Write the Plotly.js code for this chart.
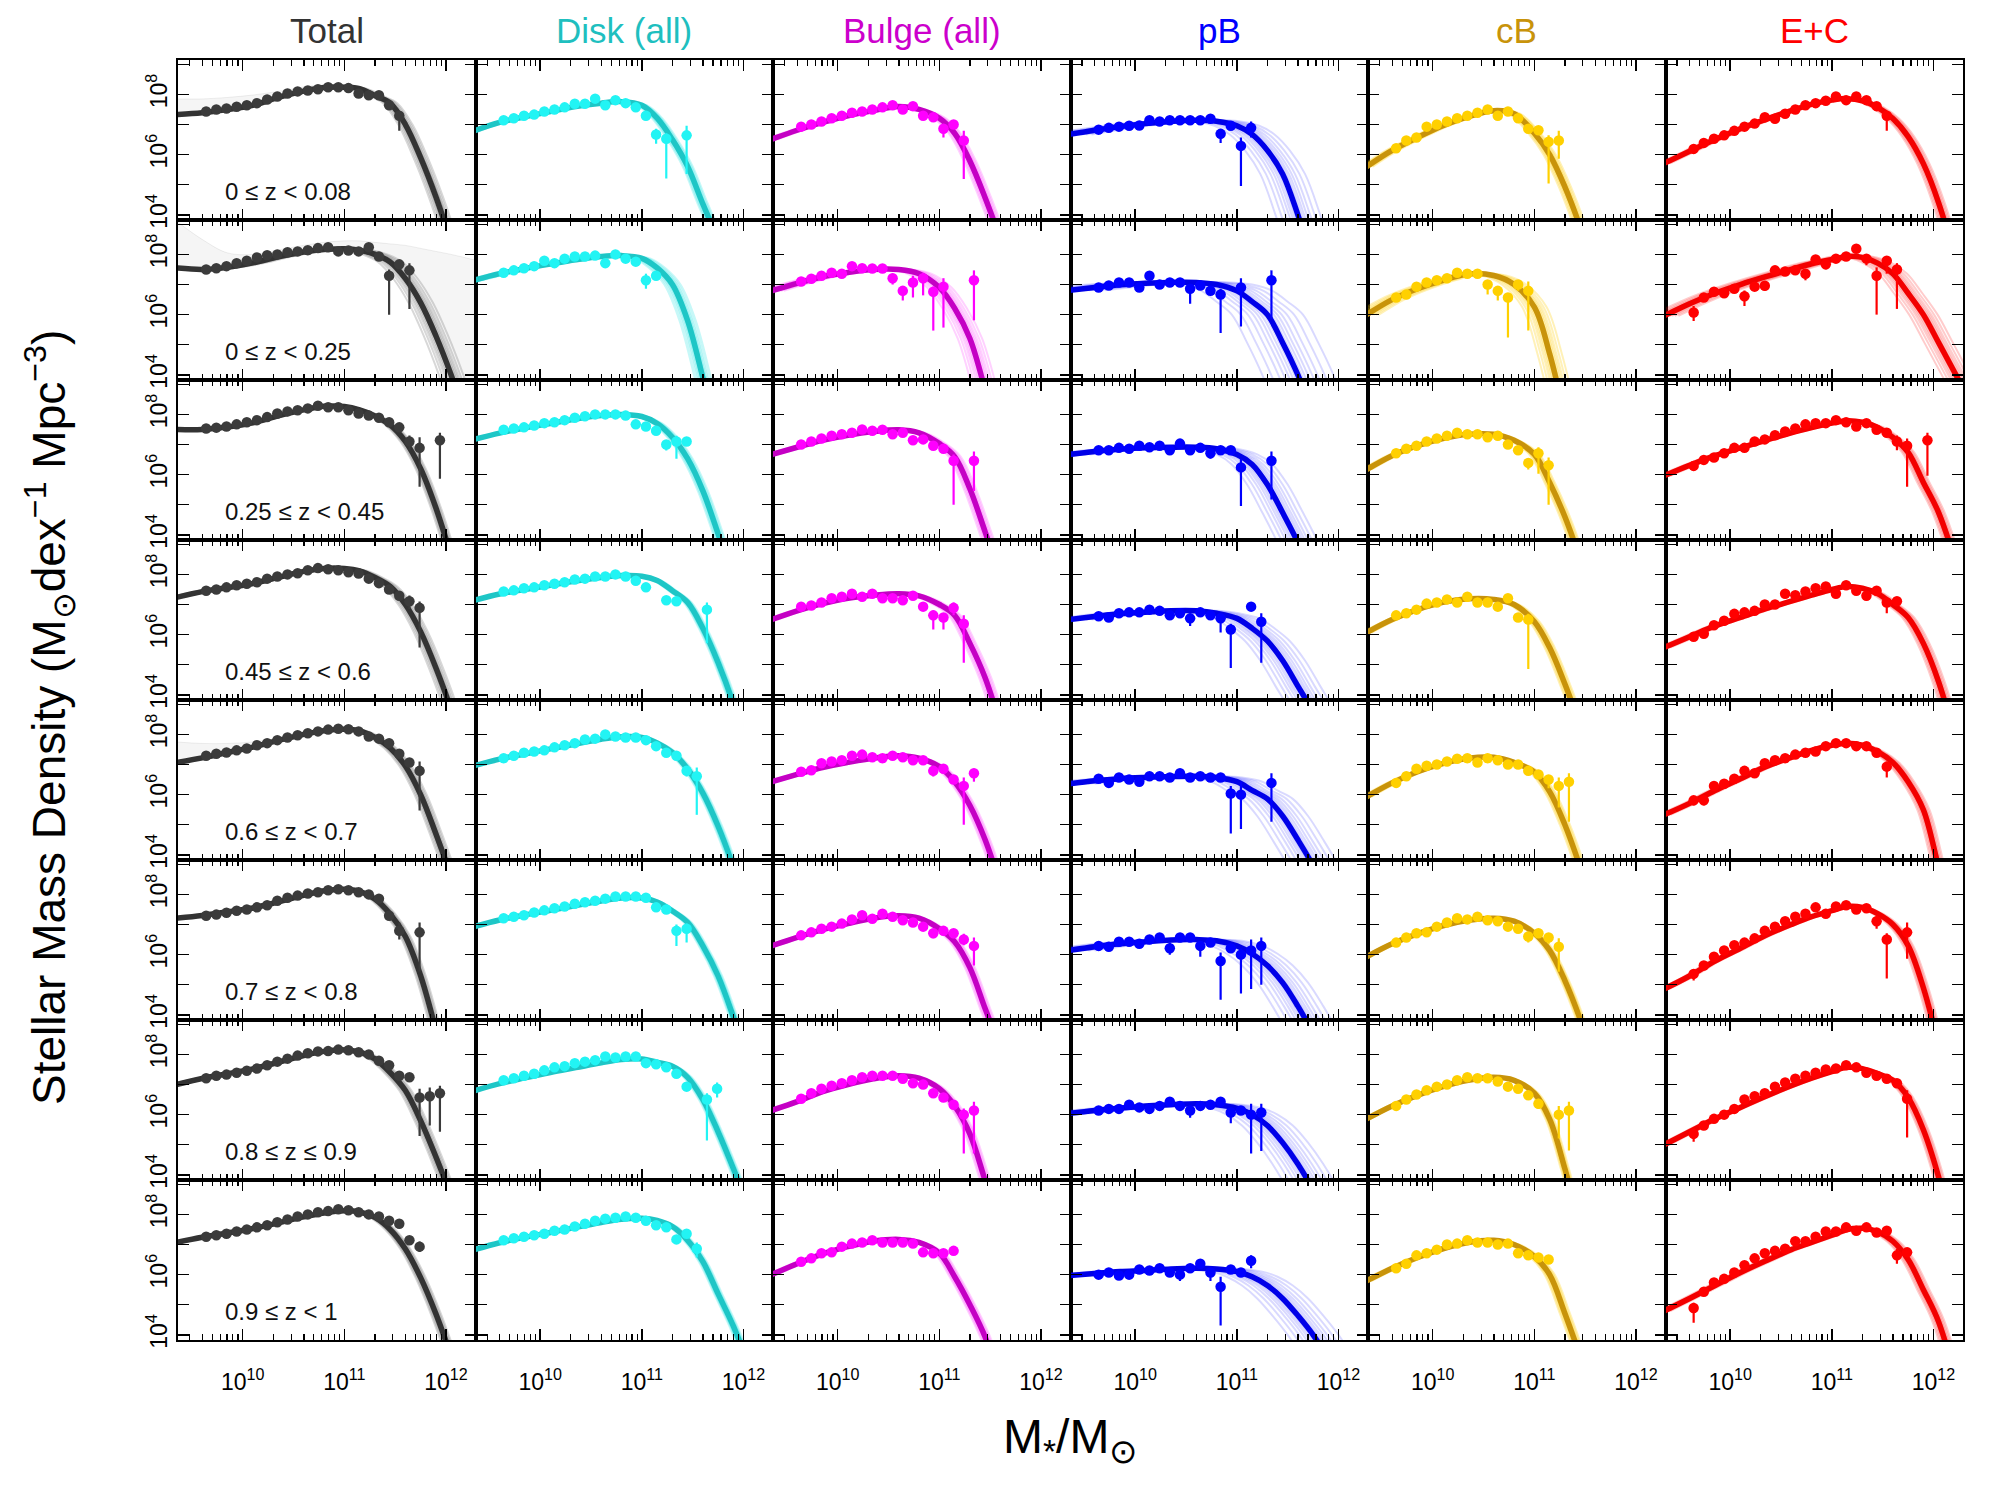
<!DOCTYPE html>
<html><head><meta charset="utf-8">
<script src="https://cdn.plot.ly/plotly-3.0.1.min.js"></script>
<style>body{margin:0;background:#fff}#chart{width:2000px;height:1500px}</style>
</head><body><div id="chart"></div>
<script>
// ---------- categories / labels ----------
const COLUMN_TITLES = ['Total','Disk (all)','Bulge (all)','pB','cB','E+C'];
const REDSHIFT_BINS = ['0 ≤ z < 0.08','0 ≤ z < 0.25','0.25 ≤ z < 0.45','0.45 ≤ z < 0.6',
                       '0.6 ≤ z < 0.7','0.7 ≤ z < 0.8','0.8 ≤ z ≤ 0.9','0.9 ≤ z < 1'];
// log10 stellar-mass bin centres of the data points
const MASS_BINS = [9.64,9.74,9.84,9.94,10.04,10.14,10.24,10.34,10.44,10.54,10.64,10.74,
                   10.84,10.94,11.04,11.14,11.24,11.34,11.44,11.54,11.64,11.74,11.84,11.94];
// log10 mass at which the fitted curves were read
const FIT_GRID = [9.35,9.6,9.85,10.1,10.35,10.6,10.8,11.0,11.15,11.3,11.45,11.6,11.75,11.9,12.05,12.3];
const X_TICKS = [1e10,1e11,1e12];
const X_TICKTEXT = ['10<sup>10</sup>','10<sup>11</sup>','10<sup>12</sup>'];
const Y_TICKS = [1e4,1e6,1e8];
const Y_TICKTEXT = ['10<sup>4</sup>','10<sup>6</sup>','10<sup>8</sup>'];
const Y_MINOR_TICKS = [1e5,1e7,1e9];

// ---------- Total ----------
const TOTAL_PTS = [
 [7.43,7.5,7.53,7.59,7.64,7.71,7.83,7.93,8.03,8.1,8.13,8.17,8.24,8.24,8.21,8.03,7.97,7.97,7.64,7.29],
 [7.5,7.54,7.61,7.71,7.79,7.9,7.97,8.0,8.07,8.1,8.14,8.21,8.24,8.1,8.13,8.1,8.24,7.93,7.29,7.67,7.47],
 [7.53,7.56,7.6,7.67,7.74,7.81,7.91,8.03,8.1,8.14,8.2,8.29,8.24,8.24,8.14,8.03,7.96,7.89,7.74,7.57,7.1,6.89,null,7.14],
 [7.46,7.5,7.57,7.64,7.69,7.74,7.86,7.93,8.0,8.04,8.14,8.21,8.17,8.14,8.07,8.03,7.86,7.71,7.5,7.29,7.11,6.89],
 [7.29,7.36,7.4,7.47,7.53,7.64,7.71,7.81,7.9,7.97,8.04,8.1,8.16,8.19,8.17,8.1,7.93,7.86,7.71,7.36,7.07,6.79],
 [7.29,7.33,7.39,7.46,7.5,7.57,7.64,7.79,7.89,7.96,8.03,8.07,8.14,8.17,8.14,8.07,8.0,7.86,7.29,6.79,null,6.74],
 [7.21,7.29,7.33,7.39,7.46,7.53,7.64,7.76,7.86,7.96,8.04,8.1,8.11,8.16,8.14,8.07,8.0,7.79,7.64,7.29,7.24,6.57,6.61,6.71],
 [7.26,7.31,7.36,7.43,7.5,7.57,7.64,7.74,7.83,7.93,8.0,8.07,8.11,8.17,8.14,8.07,8.0,7.93,7.79,7.69,7.14,6.93]];
const TOTAL_ERR = [
 [[19,6.79,7.4]],
 [[18,6.0,7.5],[20,6.19,7.71]],
 [[20,6.8,7.3],[21,5.6,7.24],[23,5.86,7.39]],
 [[20,6.85,7.3],[21,5.57,7.1]],
 [[21,5.47,7.1]],
 [[19,6.5,7.07],[21,5.43,7.07]],
 [[21,5.29,6.86],[22,5.64,6.9],[23,5.43,6.96]],
 [[21,6.75,7.1]]];
const TOTAL_FIT = [
 [7.33,7.39,7.5,7.64,7.9,8.11,8.23,8.24,8.19,7.96,7.71,7.0,5.9,4.6,3.1,0],
 [7.55,7.5,7.57,7.72,7.92,8.08,8.16,8.19,8.14,8.0,7.75,7.2,6.4,5.3,4.0,1.5],
 [7.5,7.5,7.58,7.72,7.95,8.15,8.27,8.26,8.15,7.95,7.65,7.1,6.2,4.9,3.3,0],
 [7.24,7.43,7.56,7.7,7.9,8.1,8.2,8.2,8.12,7.9,7.6,7.0,6.1,4.9,3.5,0.5],
 [7.07,7.22,7.4,7.58,7.8,8.0,8.12,8.17,8.12,7.9,7.55,6.95,6.0,4.7,3.3,0],
 [7.21,7.3,7.42,7.55,7.75,7.97,8.12,8.17,8.1,7.85,7.35,6.6,5.3,3.5,1.5,-2],
 [7.0,7.2,7.36,7.52,7.74,7.96,8.1,8.15,8.08,7.85,7.4,6.8,5.8,4.6,3.3,0.5],
 [7.07,7.24,7.38,7.53,7.72,7.92,8.05,8.12,8.08,7.9,7.5,6.85,5.9,4.7,3.3,0.5]];
// upper edge of the faint grey realisation fan (where it is visible)
const TOTAL_FAN_UPPER = [
 [7.85,7.85,7.9,7.98,8.1,8.25,8.32,8.33,8.27,8.05,7.8,7.15,6.1,4.9,3.5,1],
 [9.1,8.5,8.05,8.0,8.15,8.3,8.4,8.45,8.45,8.4,8.35,8.3,8.2,8.1,8.0,7.8],
 null, null,
 [7.75,7.7,7.7,7.75,7.88,8.04,8.14,8.19,8.13,7.92,7.58,7.0,6.1,4.8,3.4,0.2],
 null, null, null];

// ---------- Disk (all) ----------
const DISK_PTS = [
 [7.14,7.21,7.29,7.33,7.43,7.5,7.57,7.69,7.69,7.86,7.64,7.81,7.71,7.57,7.29,6.67,6.53,null,6.64],
 [7.39,7.47,7.54,7.61,7.79,7.71,7.86,7.93,7.93,7.96,7.71,8.0,7.86,7.76,7.14,7.29],
 [7.49,7.53,7.57,7.63,7.71,7.74,7.81,7.89,7.94,8.0,8.0,8.0,7.96,7.67,7.6,7.46,7.0,7.1,7.1],
 [7.43,7.47,7.54,7.57,7.64,7.69,7.74,7.83,7.86,7.93,7.93,8.0,7.93,7.79,7.57,null,7.14,7.11,null,null,6.83],
 [7.21,7.29,7.39,7.43,7.47,7.57,7.64,7.71,7.83,7.86,8.0,7.93,7.9,7.9,7.81,7.61,7.39,7.29,6.79,6.61],
 [7.21,7.26,7.31,7.4,7.47,7.54,7.6,7.69,7.74,7.79,7.86,7.93,7.93,7.93,7.89,7.57,7.5,6.79,6.86],
 [7.14,7.21,7.29,7.36,7.47,7.57,7.61,7.71,7.76,7.81,7.93,7.9,7.93,7.93,7.71,7.67,7.57,7.36,6.93,null,6.5,6.86],
 [7.14,7.21,7.26,7.31,7.36,7.46,7.5,7.6,7.69,7.79,7.86,7.89,7.93,7.89,7.79,7.64,7.57,7.17,7.36,6.86]];
const DISK_ERR = [
 [[15,6.36,6.86],[16,5.21,6.71],[18,5.36,6.96]],
 [[14,6.86,7.36]],
 [[16,6.8,7.15],[17,6.53,7.29]],
 [[20,5.71,7.07]],
 [[18,6.6,6.95],[19,5.33,6.9]],
 [[17,6.29,7.0],[18,6.4,7.03]],
 [[20,5.14,6.71],[21,6.57,7.07]],
 [[19,6.57,7.07]]];
const DISK_FIT = [
 [6.79,7.07,7.26,7.43,7.6,7.71,7.76,7.64,7.21,6.5,5.61,4.36,3.2,1.8,0,-3],
 [7.14,7.36,7.53,7.68,7.82,7.93,7.96,7.87,7.55,7.0,5.8,3.9,1.8,-0.5,-3,-6],
 [7.17,7.38,7.55,7.7,7.85,7.96,8.0,7.93,7.7,7.24,6.53,5.46,4.03,2.5,0.8,-3],
 [7.14,7.35,7.5,7.64,7.78,7.9,7.96,7.94,7.8,7.46,7.07,6.21,5.07,3.7,2.0,-2],
 [6.96,7.18,7.35,7.52,7.68,7.84,7.92,7.9,7.72,7.4,6.85,6.05,4.95,3.6,2.0,-2],
 [6.93,7.15,7.32,7.47,7.63,7.78,7.88,7.88,7.75,7.45,7.07,6.29,5.29,3.93,2.4,-1],
 [6.79,7.03,7.22,7.4,7.56,7.72,7.83,7.85,7.74,7.61,7.24,6.5,5.43,4.21,2.9,-0.5],
 [6.83,7.06,7.24,7.4,7.57,7.73,7.84,7.87,7.8,7.6,7.14,6.43,5.36,4.29,3.0,0]];

// ---------- Bulge (all) ----------
const BULGE_PTS = [
 [6.93,7.0,7.1,7.21,7.29,7.39,7.43,7.5,7.57,7.64,7.5,7.61,7.29,7.24,6.86,7.0,6.47],
 [7.1,7.19,7.29,7.39,7.36,7.61,7.54,7.53,7.53,7.21,6.79,7.07,7.21,6.76,6.93,null,null,7.14],
 [7.0,7.1,7.2,7.29,7.34,7.39,7.5,7.46,7.49,7.34,7.39,7.14,7.17,6.96,6.86,6.46,null,6.46],
 [6.93,6.97,7.07,7.21,7.26,7.36,7.26,7.36,7.21,7.21,7.14,7.29,6.93,6.64,6.57,6.89,6.36],
 [6.76,6.81,7.04,7.1,7.14,7.29,7.33,7.24,7.21,7.29,7.24,7.14,7.14,6.79,6.86,6.5,6.29,6.71],
 [6.64,6.74,6.86,6.93,7.03,7.17,7.31,7.19,7.36,7.26,7.14,7.07,6.93,6.71,6.79,6.71,6.5,6.29],
 [6.53,6.71,6.86,6.96,7.04,7.14,7.24,7.29,7.29,7.29,7.19,7.04,7.0,6.71,6.57,6.33,6.0,6.14],
 [6.43,6.54,6.71,6.74,6.93,7.03,7.07,7.14,7.07,7.07,7.07,7.03,6.74,6.71,6.71,6.79]];
const BULGE_ERR = [
 [[14,6.57,7.0],[16,5.19,6.79]],
 [[9,7.0,7.36],[10,6.47,6.93],[11,6.57,7.29],[12,6.64,7.39],[13,5.47,6.93],[14,5.57,7.21],[17,5.81,7.47]],
 [[15,5.0,6.67],[17,5.46,6.77]],
 [[13,6.17,6.8],[14,6.17,6.71],[15,6.64,7.07],[16,5.07,6.64]],
 [[13,6.6,6.9],[16,5.0,6.57],[17,6.43,6.86]],
 [[13,6.54,6.85],[15,6.54,6.8],[16,6.31,6.69],[17,5.64,6.57]],
 [[16,4.71,6.2],[17,4.71,6.43]],
 []];
const BULGE_FIT = [
 [6.51,6.81,7.07,7.29,7.46,7.6,7.5,7.21,6.71,5.79,4.57,3.2,1.6,0,-2,-6],
 [6.79,7.04,7.26,7.4,7.5,7.5,7.36,6.9,6.21,5.21,3.5,1.5,-1,-3,-5,-9],
 [6.67,6.91,7.14,7.31,7.43,7.49,7.39,7.03,6.6,5.53,4.1,2.6,1,-1,-3,-7],
 [6.5,6.79,7.03,7.21,7.31,7.36,7.29,7.0,6.64,5.71,4.57,3.0,1.3,-0.5,-2.5,-6],
 [6.43,6.67,6.9,7.07,7.21,7.29,7.21,6.93,6.43,5.64,4.5,3.0,1.3,-0.5,-2.5,-6],
 [6.29,6.57,6.83,7.03,7.21,7.29,7.21,6.86,6.43,5.57,4.21,2.9,1.2,-0.5,-2.5,-6],
 [6.14,6.43,6.76,7.0,7.19,7.29,7.21,6.86,6.29,5.36,3.81,2.2,0.5,-1.5,-3.5,-7],
 [6.0,6.36,6.69,6.93,7.11,7.17,7.07,6.71,5.93,5.0,3.93,2.4,0.7,-1.2,-3.2,-7]];

// ---------- pB ----------
const PB_PTS = [
 [6.83,6.89,6.93,6.96,6.97,7.14,7.1,7.14,7.14,7.14,7.14,7.19,6.69,6.96,6.29,6.89],
 [6.9,6.97,7.07,7.07,6.9,7.29,7.0,7.07,7.07,6.86,6.97,6.79,6.67,null,6.9,null,null,7.14],
 [6.81,6.81,6.89,6.86,6.96,6.91,6.96,6.81,7.03,6.81,6.89,6.71,6.81,6.81,6.24,null,null,6.46],
 [6.61,6.57,6.71,6.74,6.74,6.83,6.79,6.64,6.71,6.54,6.74,6.64,6.54,6.17,null,6.93,6.43],
 [6.53,6.39,6.57,6.5,6.43,6.61,6.61,6.57,6.71,6.57,6.61,6.57,6.57,6.04,6.0,null,null,6.39],
 [6.29,6.26,6.43,6.43,6.36,6.5,6.57,6.21,6.57,6.57,6.29,6.4,5.79,6.21,6.0,6.14,6.29],
 [6.14,6.19,6.19,6.33,6.24,6.19,6.29,6.43,6.29,6.14,6.29,6.33,6.43,6.07,6.14,6.0,6.07],
 [6.0,6.07,5.97,6.0,6.17,6.14,6.21,6.07,6.0,6.21,6.36,6.07,5.6,6.17,6.07,6.46]];
const PB_ERR = [
 [[12,6.39,6.81],[14,4.96,6.57],[15,6.57,7.1]],
 [[9,6.36,7.0],[12,5.39,6.86],[14,5.61,7.21],[17,5.86,7.47]],
 [[11,6.53,6.85],[14,4.96,6.53],[17,5.17,6.77]],
 [[9,6.29,6.7],[12,6.07,6.65],[13,4.89,6.36],[15,6.79,7.07],[16,5.07,6.71]],
 [[13,4.71,6.29],[14,4.86,6.43],[17,5.1,6.71]],
 [[7,6.0,6.4],[10,5.93,6.45],[12,4.5,6.07],[14,4.71,6.2],[15,4.86,6.5],[16,5.0,6.57]],
 [[9,5.9,6.3],[13,5.71,6.2],[15,4.71,6.36],[16,4.79,6.36]],
 [[8,5.79,6.15],[11,5.79,6.2],[12,4.31,5.93],[15,6.21,6.64]]];
const PB_FIT = [
 [6.67,6.81,6.93,7.03,7.1,7.14,7.11,6.96,6.67,6.14,5.36,4.0,2.4,0.6,-1.5,-5],
 [6.81,6.9,6.99,7.04,7.07,7.07,7.0,6.79,6.43,6.0,5.07,4.0,2.7,1.2,-0.5,-4],
 [6.67,6.77,6.84,6.89,6.91,6.91,6.86,6.67,6.34,5.67,4.74,3.74,2.5,1.0,-0.8,-4],
 [6.5,6.6,6.69,6.74,6.79,6.79,6.71,6.54,6.21,5.79,5.14,4.29,3.43,2.3,1.0,-2],
 [6.36,6.46,6.53,6.57,6.6,6.61,6.57,6.43,6.14,5.86,5.29,4.5,3.64,2.6,1.4,-1.5],
 [6.14,6.26,6.36,6.43,6.49,6.5,6.46,6.29,6.03,5.64,5.07,4.29,3.4,2.4,1.2,-1.5],
 [6.04,6.14,6.21,6.29,6.33,6.36,6.33,6.21,6.0,5.64,5.07,4.36,3.5,2.5,1.3,-1.5],
 [5.97,6.04,6.1,6.14,6.19,6.21,6.19,6.1,5.93,5.64,5.21,4.64,4.0,3.2,2.2,0]];

// ---------- cB ----------
const CB_PTS = [
 [6.21,6.47,6.57,6.93,7.0,7.1,7.21,7.29,7.39,7.5,7.29,7.43,7.21,6.86,6.81,6.43,6.47],
 [6.57,6.67,6.93,7.07,7.14,7.21,7.39,7.36,7.36,7.0,6.79,6.57,7.0,6.79],
 [6.71,6.86,6.96,7.1,7.2,7.29,7.39,7.34,7.34,7.24,7.29,7.0,6.81,6.39,6.71,6.31],
 [6.64,6.71,6.83,7.03,7.07,7.17,7.07,7.26,7.07,7.07,6.93,7.21,6.57,6.5],
 [6.39,6.61,6.86,6.96,7.0,7.1,7.19,7.21,7.07,7.21,7.14,7.0,7.0,6.79,6.67,6.5,6.29,6.43],
 [6.4,6.57,6.71,6.74,6.93,7.07,7.21,7.17,7.26,7.14,7.11,6.93,6.86,6.6,6.71,6.57,6.26],
 [6.29,6.5,6.67,6.81,6.93,7.0,7.14,7.24,7.21,7.21,7.1,6.93,6.86,6.64,6.36,null,6.0,6.14],
 [6.21,6.36,6.64,6.71,6.83,7.0,7.03,7.14,7.07,7.07,7.0,7.03,6.71,6.64,6.57,6.5]];
const CB_ERR = [
 [[15,5.04,6.64],[16,5.86,6.79]],
 [[9,6.67,7.1],[10,6.47,6.95],[11,5.24,6.71],[12,6.79,7.14],[13,5.47,7.1]],
 [[13,6.17,6.55],[14,6.03,6.91],[15,5.0,6.57]],
 [[13,4.86,6.69]],
 [[15,6.21,6.65],[16,5.57,6.57],[17,5.1,6.71]],
 [[13,6.4,6.75],[15,6.36,6.7],[16,5.43,6.54]],
 [[14,6.19,6.53],[16,5.21,6.29],[17,4.81,6.43]],
 []];
const CB_FIT = [
 [5.6,6.14,6.57,6.96,7.26,7.46,7.36,6.71,6.0,4.93,3.6,2.0,0,-2,-4,-8],
 [6.0,6.5,6.86,7.14,7.35,7.3,7.0,6.25,4.7,2.6,0.5,-1.5,-3.5,-5.5,-8,-12],
 [6.17,6.63,6.96,7.2,7.34,7.34,7.14,6.67,5.74,4.6,3.2,1.5,-0.5,-2.5,-5,-9],
 [6.07,6.5,6.83,7.07,7.19,7.17,7.0,6.43,5.57,4.36,3.0,1.4,-0.5,-2.5,-5,-9],
 [5.93,6.39,6.76,7.03,7.21,7.24,7.07,6.75,6.1,5.0,3.6,2.0,0,-2,-4.5,-9],
 [5.93,6.36,6.69,6.96,7.14,7.21,7.11,6.71,6.14,5.14,3.86,2.3,0.5,-1.5,-4,-8],
 [5.86,6.29,6.64,6.93,7.14,7.24,7.14,6.71,5.85,4.2,2.3,0.5,-1.5,-3.5,-6,-10],
 [5.79,6.21,6.57,6.86,7.07,7.14,7.0,6.6,6.0,4.71,3.3,1.6,-0.3,-2.3,-4.7,-9]];

// ---------- E+C ----------
const EC_PTS = [
 [6.19,6.39,6.53,6.64,6.79,6.93,7.03,7.24,7.19,7.36,7.5,7.64,7.71,7.79,7.93,7.81,7.93,7.81,7.61,7.29],
 [6.07,6.57,6.76,6.71,6.86,6.61,6.93,6.96,7.47,7.43,7.47,7.36,7.83,7.67,7.86,7.93,8.19,7.86,7.29,7.79,7.5],
 [6.29,6.49,6.57,6.71,6.89,6.89,7.1,7.17,7.31,7.43,7.53,7.67,7.71,7.71,7.81,7.74,7.6,7.71,7.49,7.39,7.1,6.96,null,7.14],
 [5.93,6.03,6.31,6.46,6.69,6.74,6.79,7.0,7.0,7.36,7.31,7.43,7.54,7.6,7.36,7.64,7.46,7.29,7.46,7.07,7.11],
 [5.81,5.81,6.29,6.36,6.53,6.79,6.71,7.04,7.14,7.21,7.33,7.39,7.43,7.61,7.71,7.71,7.61,7.61,7.39,6.93],
 [5.36,5.64,5.93,6.14,6.31,6.4,6.54,6.79,6.93,7.11,7.26,7.36,7.57,7.36,7.6,7.64,7.5,7.54,7.11,6.5,null,6.74],
 [5.36,5.64,5.86,6.0,6.19,6.5,6.61,6.71,6.93,7.07,7.19,7.29,7.39,7.5,7.53,7.64,7.57,7.39,7.29,7.19,7.04,6.53],
 [4.89,5.43,5.74,5.86,6.07,6.31,6.54,6.71,6.79,6.86,7.11,7.11,7.26,7.43,7.43,7.57,7.46,7.57,7.4,7.46,6.64,6.74]];
const EC_ERR = [
 [[19,6.79,7.4]],
 [[0,5.79,6.29],[5,6.29,6.8],[7,6.79,7.1],[11,7.14,7.5],[13,7.5,7.8],[17,7.64,8.0],[18,6.0,7.57],[19,7.36,7.93],[20,6.19,7.71]],
 [[20,6.81,7.3],[21,5.6,7.2],[23,5.96,7.39]],
 [[17,7.14,7.45],[19,6.71,7.2]],
 [[0,5.64,5.95],[1,5.64,5.95],[19,6.57,7.1]],
 [[0,5.14,5.5],[18,6.86,7.3],[19,5.21,6.71],[21,5.86,7.07]],
 [[0,5.1,5.55],[21,5.24,6.81]],
 [[0,4.4,5.07],[20,6.36,6.85]]];
const EC_FIT = [
 [5.71,6.11,6.5,6.86,7.17,7.46,7.67,7.81,7.86,7.79,7.57,7.2,6.6,5.7,4.4,1.5],
 [5.96,6.36,6.71,7.0,7.26,7.5,7.69,7.83,7.93,7.9,7.71,7.36,6.71,6.0,5.07,3.5],
 [5.96,6.31,6.63,6.89,7.14,7.39,7.56,7.71,7.79,7.74,7.57,7.24,6.74,5.74,4.74,2.2],
 [5.57,5.93,6.29,6.57,6.86,7.11,7.31,7.5,7.6,7.54,7.36,7.0,6.57,5.71,4.43,1.5],
 [5.33,5.71,6.14,6.53,6.93,7.24,7.47,7.64,7.71,7.64,7.43,7.07,6.43,5.5,3.6,0.5],
 [4.86,5.29,5.79,6.21,6.64,7.0,7.26,7.46,7.6,7.57,7.36,7.0,6.3,4.9,3.0,-0.5],
 [5.0,5.43,5.86,6.24,6.61,6.96,7.21,7.43,7.57,7.53,7.36,7.14,6.57,5.5,3.93,0.5],
 [4.79,5.21,5.64,6.07,6.46,6.83,7.07,7.31,7.5,7.54,7.43,7.11,6.5,5.5,4.43,1.5]];

// half-width (dex in mass) of the fan of fit realisations, per row
const TOTAL_SPREAD = [0.07,0.12,0.05,0.07,0.06,0.05,0.06,0.05];
const DISK_SPREAD  = [0.05,0.08,0.05,0.04,0.04,0.04,0.04,0.04];
const BULGE_SPREAD = [0.06,0.12,0.06,0.06,0.05,0.05,0.05,0.05];
const PB_SPREAD    = [0.22,0.35,0.2,0.22,0.25,0.25,0.25,0.25];
const CB_SPREAD    = [0.06,0.12,0.05,0.05,0.05,0.04,0.04,0.05];
const EC_SPREAD    = [0.06,0.14,0.06,0.06,0.06,0.05,0.05,0.06];

// ---------- styling ----------
const COMPONENTS = [
 {title:'#333333', pt:'#3b3b3b', line:'#333333', fan:'rgba(60,60,60,0.2)', pts:TOTAL_PTS, err:TOTAL_ERR, fit:TOTAL_FIT, spread:TOTAL_SPREAD},
 {title:'#1fbfbf', pt:'#22f4f4', line:'#1ec6c6', fan:'rgba(0,225,225,0.22)', pts:DISK_PTS, err:DISK_ERR, fit:DISK_FIT, spread:DISK_SPREAD},
 {title:'#cc00cc', pt:'#ff00ff', line:'#c400c4', fan:'rgba(255,0,255,0.18)', pts:BULGE_PTS, err:BULGE_ERR, fit:BULGE_FIT, spread:BULGE_SPREAD},
 {title:'#0000ff', pt:'#0000ff', line:'#0000e8', fan:'rgba(0,0,255,0.15)', pts:PB_PTS, err:PB_ERR, fit:PB_FIT, spread:PB_SPREAD},
 {title:'#c8930a', pt:'#ffd000', line:'#c8930a', fan:'rgba(255,205,0,0.28)', pts:CB_PTS, err:CB_ERR, fit:CB_FIT, spread:CB_SPREAD},
 {title:'#ff0000', pt:'#ff0000', line:'#f20000', fan:'rgba(255,0,0,0.2)', pts:EC_PTS, err:EC_ERR, fit:EC_FIT, spread:EC_SPREAD}];

const W=2000, H=1500, L=178, T=60, PW=297.5, PH=160;
const XR=[9.363,12.29], YR=[3.829,9.143];
const FONT='"Liberation Sans", Arial, Helvetica, sans-serif';
const FAN_FRACTIONS=[-1,-0.75,-0.55,-0.4,-0.28,-0.18,-0.1,-0.04,0.04,0.1,0.18,0.28,0.4,0.55,0.75,1];
const MINOR_X=[]; for (const d of [9,10,11,12]) for (let m=2;m<=9;m++) MINOR_X.push(m*Math.pow(10,d));
const p10 = v => Math.pow(10, v);

function trimmed(vals){
  const xs=[], ys=[];
  for (let j=0;j<FIT_GRID.length;j++){
    xs.push(FIT_GRID[j]); ys.push(vals[j]);
    if (vals[j] < YR[0]-0.4) break;
  }
  return [xs, ys];
}

const traces=[], layout={width:W,height:H,margin:{l:0,r:0,t:0,b:0},showlegend:false,
  paper_bgcolor:'#fff',plot_bgcolor:'#fff',annotations:[],font:{family:FONT,color:'#000'}};

for (let r=0;r<8;r++){
  for (let c=0;c<6;c++){
    const n=r*6+c+1, comp=COMPONENTS[c];
    const xa = n===1?'x':'x'+n, ya = n===1?'y':'y'+n;
    const [gx, gy] = trimmed(comp.fit[r]);

    // faint low-mass envelope of the realisation fan (Total column)
    if (c===0 && TOTAL_FAN_UPPER[r]){
      const up = TOTAL_FAN_UPPER[r];
      traces.push({x:FIT_GRID.map(p10), y:comp.fit[r].map(p10), xaxis:xa, yaxis:ya, mode:'lines',
        line:{width:0, shape:'spline', color:'rgba(0,0,0,0)'}, hoverinfo:'skip'});
      traces.push({x:FIT_GRID.map(p10), y:up.map(p10), xaxis:xa, yaxis:ya, mode:'lines', fill:'tonexty',
        fillcolor: 'rgba(90,90,90,0.06)',
        line:{width:0.8, shape:'spline', color:'rgba(90,90,90,0.12)'}, hoverinfo:'skip'});
    }
    // fan of realisations
    const fx=[], fy=[], s=comp.spread[r];
    for (const f of FAN_FRACTIONS){
      for (let j=0;j<gx.length;j++){ fx.push(p10(gx[j]+s*f)); fy.push(p10(gy[j])); }
      fx.push(null); fy.push(null);
    }
    traces.push({x:fx, y:fy, xaxis:xa, yaxis:ya, mode:'lines', connectgaps:false,
      line:{width:2, color:comp.fan, shape:'spline'}, hoverinfo:'skip'});
    // best fit
    traces.push({x:gx.map(p10), y:gy.map(p10), xaxis:xa, yaxis:ya, mode:'lines',
      line:{width:5.5, color:comp.line, shape:'spline'}, hoverinfo:'skip'});
    // data points
    const px=[], py=[], ep=[], em=[], idx={};
    comp.pts[r].forEach((v,k)=>{ if(v!==null){ idx[k]=px.length; px.push(p10(MASS_BINS[k])); py.push(p10(v)); ep.push(0); em.push(0);} });
    for (const [k,lo,hi] of comp.err[r]){
      const i=idx[k]; if (i===undefined) continue;
      const v=comp.pts[r][k];
      ep[i]=Math.max(0,p10(hi)-p10(v)); em[i]=Math.max(0,p10(v)-p10(lo));
    }
    traces.push({x:px, y:py, xaxis:xa, yaxis:ya, mode:'markers', marker:{size:10.5, color:comp.pt},
      error_y:{type:'data', symmetric:false, array:ep, arrayminus:em, color:comp.pt, thickness:2.2, width:0},
      hoverinfo:'skip'});

    const axCommon={showline:true, linecolor:'#000', linewidth:2, mirror:'allticks', ticks:'inside',
      tickcolor:'#000', tickwidth:1.5, ticklen:11, showgrid:false, zeroline:false, fixedrange:true, type:'log',
      tickfont:{size:23, family:FONT, color:'#000'}};
    layout[n===1?'xaxis':'xaxis'+n] = Object.assign({}, axCommon, {
      domain:[(L+c*PW)/W, (L+(c+1)*PW)/W], range:XR, anchor:ya,
      tickmode:'array', tickvals:X_TICKS, ticktext:X_TICKTEXT, showticklabels:r===7, ticklabelstandoff:20,
      minor:{tickmode:'array', tickvals:MINOR_X, ticks:'inside', ticklen:6, tickwidth:1.2, tickcolor:'#000', showgrid:false}});
    layout[n===1?'yaxis':'yaxis'+n] = Object.assign({}, axCommon, {
      domain:[1-(T+(r+1)*PH)/H, 1-(T+r*PH)/H], range:YR, anchor:xa,
      tickmode:'array', tickvals:Y_TICKS, ticktext:Y_TICKTEXT, showticklabels:c===0, tickangle:-90,
      minor:{tickmode:'array', tickvals:Y_MINOR_TICKS, ticks:'inside', ticklen:11, tickwidth:1.5, tickcolor:'#000', showgrid:false}});

    if (c===0){
      layout.annotations.push({xref:xa, yref:ya, x:9.807, y:4.76, xanchor:'left', yanchor:'middle',
        text:REDSHIFT_BINS[r], showarrow:false, font:{size:24, family:FONT, color:'#111'}});
    }
  }
}
COLUMN_TITLES.forEach((t,c)=>{
  layout.annotations.push({xref:'paper', yref:'paper', x:(L+(c+0.5)*PW)/W, y:1-31/H, xanchor:'center', yanchor:'middle',
    text:t, showarrow:false, font:{size:35, family:FONT, color:COMPONENTS[c].title}});
});
layout.annotations.push({xref:'paper', yref:'paper', x:49/W, y:1-718/H, xanchor:'center', yanchor:'middle', textangle:-90,
  text:'Stellar Mass Density (M<sub>⊙</sub>dex<sup>−1</sup> Mpc<sup>−3</sup>)', showarrow:false, font:{size:46, family:FONT, color:'#000'}});
layout.annotations.push({xref:'paper', yref:'paper', x:1070/W, y:1-1440/H, xanchor:'center', yanchor:'middle',
  text:'M<sub>*</sub>/M<sub>⊙</sub>', showarrow:false, font:{size:48, family:FONT, color:'#000'}});

Plotly.newPlot('chart', traces, layout, {staticPlot:true, displayModeBar:false});
</script></body></html>
